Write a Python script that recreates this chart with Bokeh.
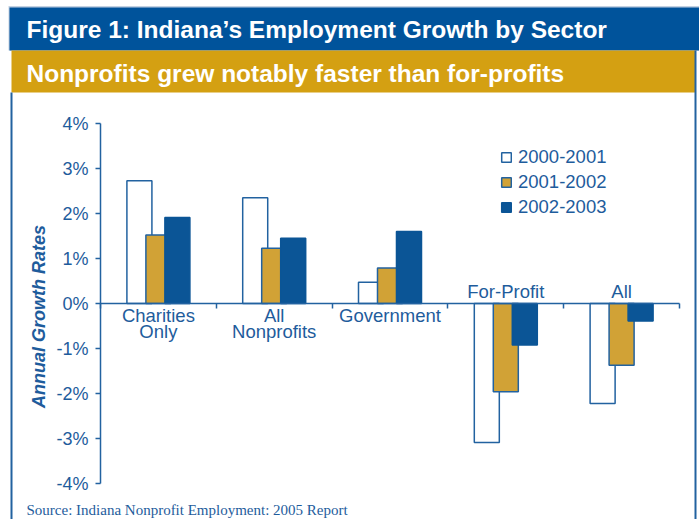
from bokeh.plotting import figure
from bokeh.models import (BoxAnnotation, Label, Legend, LegendItem, FixedTicker,
                          PrintfTickFormatter, LinearAxis, Range1d, ColumnDataSource,
                          CustomJSTickFormatter)
from bokeh.core.properties import value
from bokeh.embed import file_html
from bokeh.resources import INLINE
import math

# ---------------- data ----------------
categories = ["Charities\nOnly", "All\nNonprofits", "Government", "For-Profit", "All"]
series_names = ["2000-2001", "2001-2002", "2002-2003"]
growth_2000_2001 = [2.73, 2.35, 0.47, -3.09, -2.22]
growth_2001_2002 = [1.52, 1.23, 0.79, -1.96, -1.37]
growth_2002_2003 = [1.91, 1.45, 1.60, -0.92, -0.39]
y_ticks = [-4, -3, -2, -1, 0, 1, 2, 3, 4]

title_text = "Figure 1: Indiana\u2019s Employment Growth by Sector"
subtitle_text = "Nonprofits grew notably faster than for-profits"
source_text = "Source: Indiana Nonprofit Employment: 2005 Report"
y_title = "Annual Growth Rates"

# ---------------- styles / layout ----------------
HEADER_BLUE = "#00539b"
HEADER_GOLD = "#d4a012"
TEXT_BLUE = "#1e5c9c"
BAR_BLUE = "#0b5596"
BAR_GOLD = "#d1a236"
OUTLINE = "#2262a0"
FONT = "Liberation Sans"

W, H = 699, 519
# pixel placement of the plotting region (x: 0..n categories, y: -4..4)
PX_LEFT, PX_RIGHT = 100, 679
PX_TOP, PX_BOTTOM = 123, 483
n = len(categories)
ux = (PX_RIGHT - PX_LEFT) / n
uy = (PX_BOTTOM - PX_TOP) / 8.0
x_range = Range1d(0 - PX_LEFT / ux, n + (W - PX_RIGHT) / ux)
y_range = Range1d(-4 - (H - PX_BOTTOM) / uy, 4 + PX_TOP / uy)

p = figure(width=W, height=H, x_range=x_range, y_range=y_range,
           output_backend="svg", toolbar_location=None, x_axis_type=None, y_axis_type=None,
           min_border=0)
p.title.text = ""
p.outline_line_color = None
p.xgrid.visible = False
p.ygrid.visible = False
p.background_fill_color = "white"
p.border_fill_color = "white"


def sx(px):
    return px


def sy(py):
    return H - py


def box(l, r, t, b, color):
    return BoxAnnotation(left=sx(l), right=sx(r), top=sy(t), bottom=sy(b),
                         left_units="screen", right_units="screen",
                         top_units="screen", bottom_units="screen",
                         fill_color=color, fill_alpha=1, line_color=None, level="underlay")

# header bands and frame lines
p.add_layout(box(8, W, 5.5, 50, "#c3d1e2"))
p.add_layout(box(9, W, 7, 50, HEADER_BLUE))
p.add_layout(box(11, 695, 50, 92, HEADER_GOLD))
p.add_layout(box(10, 12, 92, H, OUTLINE))
p.add_layout(box(694, 696, 50, H, OUTLINE))

# y axis
yax = LinearAxis(ticker=FixedTicker(ticks=y_ticks), formatter=PrintfTickFormatter(format="%d%%"),
                 fixed_location=0, bounds=(-4, 4))
yax.axis_line_color = OUTLINE
yax.axis_line_width = 1.5
yax.major_tick_line_color = OUTLINE
yax.major_tick_line_width = 1.5
yax.major_tick_out = 5
yax.major_tick_in = 0
yax.minor_tick_line_color = None
yax.major_label_standoff = 7
yax.major_label_text_font = FONT
yax.major_label_text_font_size = "18px"
yax.major_label_text_color = TEXT_BLUE
p.add_layout(yax, "left")

# x axis at zero
xax = LinearAxis(ticker=FixedTicker(ticks=list(range(n + 1))),
                 formatter=CustomJSTickFormatter(code="return ''"), fixed_location=0,
                 bounds=(0, n))
xax.axis_line_color = OUTLINE
xax.axis_line_width = 1.5
xax.major_tick_line_color = OUTLINE
xax.major_tick_line_width = 1.5
xax.major_tick_out = 5
xax.major_tick_in = 0
xax.minor_tick_line_color = None
p.add_layout(xax, "below")

# bars
bar_w = 0.216
offs = [-0.164, 0.0, 0.164]
fills = ["white", BAR_GOLD, BAR_BLUE]
lines = [OUTLINE, OUTLINE, BAR_BLUE]
renderers = []
for vals, off, fc, lc in zip([growth_2000_2001, growth_2001_2002, growth_2002_2003], offs, fills, lines):
    src = ColumnDataSource(dict(x=[i + 0.5 + off for i in range(n)], top=vals))
    r = p.vbar(x="x", top="top", bottom=0, width=bar_w, source=src,
               fill_color=fc, line_color=lc, line_width=1.5)
    renderers.append(r)

# category labels: below the axis for growing sectors, above it for shrinking ones
below_x, below_t, above_x, above_t = [], [], [], []
for i, c in enumerate(categories):
    s = growth_2000_2001[i] + growth_2001_2002[i] + growth_2002_2003[i]
    if s >= 0:
        below_x.append(i + 0.5)
        below_t.append(c)
    else:
        above_x.append(i + 0.5)
        above_t.append(c)
p.text(x=below_x, y=[0] * len(below_x), text=below_t, text_align="center", text_baseline="top",
       y_offset=1, text_font=value(FONT), text_font_size="18.5px", text_color=TEXT_BLUE,
       text_line_height=0.8)
p.text(x=above_x, y=[0] * len(above_x), text=above_t, text_align="center", text_baseline="bottom",
       y_offset=-2, text_font=value(FONT), text_font_size="18.5px", text_color=TEXT_BLUE)

# legend
legend = Legend(items=[LegendItem(label=nm, renderers=[r]) for nm, r in zip(series_names, renderers)],
                location=(500, sy(218)), glyph_width=12, glyph_height=12, label_standoff=6,
                spacing=3, padding=0, margin=0, label_height=20,
                label_text_font=FONT, label_text_font_size="18.5px", label_text_color=TEXT_BLUE,
                background_fill_alpha=0, border_line_alpha=0)
p.add_layout(legend, "center")

# texts
p.add_layout(Label(x=sx(26), y=sy(29), x_units="screen", y_units="screen", text=title_text,
                   text_font=FONT, text_font_style="bold", text_font_size="24.5px",
                   text_color="white", text_baseline="alphabetic"))
p.add_layout(Label(x=sx(26), y=sy(73), x_units="screen", y_units="screen", text=subtitle_text,
                   text_font=FONT, text_font_style="bold", text_font_size="24.5px",
                   text_color="white", text_baseline="alphabetic"))
p.add_layout(Label(x=sx(26), y=sy(509), x_units="screen", y_units="screen", text=source_text,
                   text_font="Liberation Serif", text_font_size="15px",
                   text_color=TEXT_BLUE, text_baseline="alphabetic"))
p.add_layout(Label(x=sx(38.5), y=sy(316), x_units="screen", y_units="screen", text=y_title,
                   text_font=FONT, text_font_style="bold italic", text_font_size="18px",
                   text_color=TEXT_BLUE, angle=math.pi / 2, text_align="center",
                   text_baseline="middle"))

open("out.html", "w").write(file_html(p, INLINE))
